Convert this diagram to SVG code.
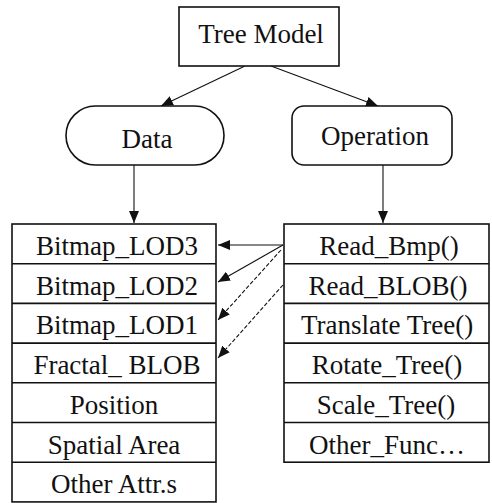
<svg xmlns="http://www.w3.org/2000/svg" width="492" height="503" viewBox="0 0 492 503">
  <style>
    .box { fill: #fff; stroke: #111; stroke-width: 1.6; }
    .cell { fill: none; stroke: #111; stroke-width: 1.6; }
    .lbl { font-family: "Liberation Serif", "Times New Roman", serif; font-size: 27px; fill: #111; text-anchor: middle; }
    .edge { fill: none; stroke: #111; stroke-width: 1.1; }
    .dash { stroke-dasharray: 4 2; }
  </style>
  <defs>
    <marker id="arrow" viewBox="0 0 12 10" refX="12" refY="5" markerWidth="12" markerHeight="10" markerUnits="userSpaceOnUse" orient="auto">
      <path d="M0,0 L12,5 L0,10 Z" fill="#111"/>
    </marker>
  </defs>

  <!-- connectors -->
  <g id="connectors">
    <line class="edge" x1="245" y1="66" x2="161" y2="106" marker-end="url(#arrow)"/>
    <line class="edge" x1="271" y1="66" x2="378" y2="106" marker-end="url(#arrow)"/>
    <line class="edge" x1="134" y1="165" x2="134" y2="223" marker-end="url(#arrow)"/>
    <line class="edge" x1="383" y1="165" x2="383" y2="223" marker-end="url(#arrow)"/>
    <line class="edge" x1="283" y1="245" x2="218" y2="245" marker-end="url(#arrow)" stroke="#666"/>
    <line class="edge" x1="283" y1="245" x2="218" y2="282" marker-end="url(#arrow)"/>
    <line class="edge dash" x1="281" y1="250" x2="218" y2="320" marker-end="url(#arrow)"/>
    <line class="edge dash" x1="283" y1="285" x2="218" y2="358" marker-end="url(#arrow)"/>
  </g>

  <!-- top node -->
  <g id="tree-model">
    <rect class="box" x="179" y="7" width="160" height="59"/>
    <text class="lbl" x="261" y="43">Tree Model</text>
  </g>

  <g id="data">
    <rect class="box" x="66" y="106" width="158" height="59" rx="29.5" ry="29.5"/>
    <text class="lbl" x="147" y="148">Data</text>
  </g>

  <g id="operation">
    <rect class="box" x="292" y="106" width="160" height="59" rx="12" ry="12"/>
    <text class="lbl" x="375" y="145">Operation</text>
  </g>

  <!-- data attribute table -->
  <g id="data-table">
    <rect class="cell" x="12" y="224" width="204" height="277.9"/>
    <line class="cell" x1="12" y1="263.7" x2="216" y2="263.7"/>
    <line class="cell" x1="12" y1="303.4" x2="216" y2="303.4"/>
    <line class="cell" x1="12" y1="343.1" x2="216" y2="343.1"/>
    <line class="cell" x1="12" y1="382.8" x2="216" y2="382.8"/>
    <line class="cell" x1="12" y1="422.5" x2="216" y2="422.5"/>
    <line class="cell" x1="12" y1="462.2" x2="216" y2="462.2"/>
    <text class="lbl" x="117" y="255">Bitmap_LOD3</text>
    <text class="lbl" x="117" y="294.7">Bitmap_LOD2</text>
    <text class="lbl" x="117" y="334.4">Bitmap_LOD1</text>
    <text class="lbl" x="117" y="374.1">Fractal_ BLOB</text>
    <text class="lbl" x="114" y="413.8">Position</text>
    <text class="lbl" x="114" y="453.5">Spatial Area</text>
    <text class="lbl" x="114" y="493.2">Other Attr.s</text>
  </g>

  <!-- operation method table -->
  <g id="operation-table">
    <rect class="cell" x="284" y="224" width="205" height="238.2"/>
    <line class="cell" x1="284" y1="263.7" x2="489" y2="263.7"/>
    <line class="cell" x1="284" y1="303.4" x2="489" y2="303.4"/>
    <line class="cell" x1="284" y1="343.1" x2="489" y2="343.1"/>
    <line class="cell" x1="284" y1="382.8" x2="489" y2="382.8"/>
    <line class="cell" x1="284" y1="422.5" x2="489" y2="422.5"/>
    <text class="lbl" x="389" y="255">Read_Bmp()</text>
    <text class="lbl" x="388" y="294.7">Read_BLOB()</text>
    <text class="lbl" x="387" y="334.4">Translate Tree()</text>
    <text class="lbl" x="387" y="374.1">Rotate_Tree()</text>
    <text class="lbl" x="386" y="413.8">Scale_Tree()</text>
    <text class="lbl" x="387" y="453.5">Other_Func…</text>
  </g>
</svg>
